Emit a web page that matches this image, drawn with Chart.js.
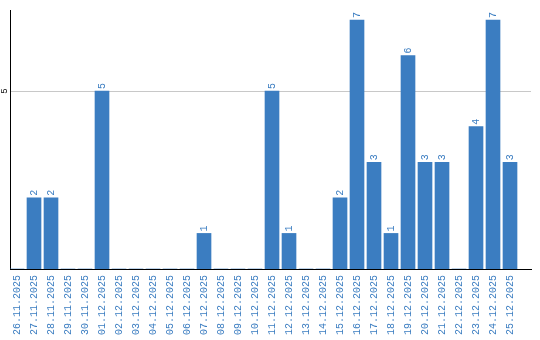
<!DOCTYPE html>
<html>
<head>
<meta charset="utf-8">
<script src="https://cdn.jsdelivr.net/npm/chart.js@4"></script>
<style>
  body { margin: 0; background: #fff; }
  #wrap { width: 540px; height: 340px; }
</style>
</head>
<body>
<div id="wrap"><canvas id="chart"></canvas></div>
<script>
const dates = ['26.11.2025','27.11.2025','28.11.2025','29.11.2025','30.11.2025',
  '01.12.2025','02.12.2025','03.12.2025','04.12.2025','05.12.2025','06.12.2025',
  '07.12.2025','08.12.2025','09.12.2025','10.12.2025','11.12.2025','12.12.2025',
  '13.12.2025','14.12.2025','15.12.2025','16.12.2025','17.12.2025','18.12.2025',
  '19.12.2025','20.12.2025','21.12.2025','22.12.2025','23.12.2025','24.12.2025','25.12.2025'];
const counts = [0,2,2,0,0, 5,0,0,0,0,0, 1,0,0,0,5,1, 0,0,2,7,3,1, 6,3,3,0,4,7,3];
const yTicks = [5];

const blue = '#3b7dc1';
const monoFamily = '"Liberation Mono", "DejaVu Sans Mono", monospace';

// value labels on top of bars + rotated y tick label
const barLabels = {
  id: 'barLabels',
  afterDatasetsDraw(chart) {
    const ctx = chart.ctx;
    const meta = chart.getDatasetMeta(0);
    ctx.save();
    ctx.font = '10px ' + monoFamily;
    ctx.fillStyle = blue;
    meta.data.forEach((bar, i) => {
      if (!counts[i]) return;
      ctx.save();
      ctx.translate(bar.x, bar.y - 2);
      ctx.rotate(-Math.PI / 2);
      ctx.textAlign = 'left';
      ctx.textBaseline = 'middle';
      ctx.fillText(String(counts[i]), 0, 0);
      ctx.restore();
    });
    const ys = chart.scales.y;
    ctx.fillStyle = '#000';
    ctx.font = '9px ' + monoFamily;
    yTicks.forEach(t => {
      ctx.save();
      ctx.translate(5, ys.getPixelForValue(t));
      ctx.rotate(-Math.PI / 2);
      ctx.textAlign = 'center';
      ctx.textBaseline = 'middle';
      ctx.fillText(String(t), 0, 0);
      ctx.restore();
    });
    ctx.restore();
  }
};

new Chart(document.getElementById('chart'), {
  type: 'bar',
  data: {
    datasets: [{
      data: counts.map((v, i) => ({ x: i, y: v })),
      backgroundColor: blue,
      barThickness: 14,
      borderWidth: 0
    }]
  },
  options: {
    responsive: true,
    maintainAspectRatio: false,
    animation: false,
    layout: { padding: { top: 10, right: 9, left: 0, bottom: 0 } },
    plugins: { legend: { display: false }, tooltip: { enabled: false } },
    scales: {
      x: {
        type: 'linear',
        offset: false,
        min: -0.412,
        max: 30.235,
        afterBuildTicks(scale) {
          scale.ticks = dates.map((d, i) => ({ value: i }));
        },
        afterFit(scale) { scale.height = 71; },
        grid: { display: false, drawTicks: false },
        border: { color: '#000', width: 1 },
        ticks: {
          autoSkip: false,
          maxRotation: 90,
          minRotation: 90,
          padding: 6,
          color: blue,
          font: { family: monoFamily, size: 10 },
          callback: (v) => dates[v]
        }
      },
      y: {
        min: 0,
        max: 7.28,
        afterBuildTicks(scale) {
          scale.ticks = yTicks.map(v => ({ value: v }));
        },
        afterFit(scale) { scale.width = 10; },
        grid: { color: '#c8c8c8', drawTicks: false },
        border: { color: '#000', width: 1 },
        ticks: { display: false }
      }
    }
  },
  plugins: [barLabels]
});
</script>
</body>
</html>
